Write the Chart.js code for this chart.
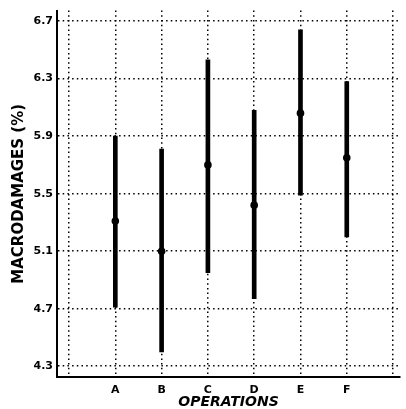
<!DOCTYPE html>
<html>
<head>
<meta charset="utf-8">
<script src="https://cdn.jsdelivr.net/npm/chart.js@4.4.1/dist/chart.umd.min.js"></script>
<style>
  html, body { margin: 0; padding: 0; background: #fff; }
  #wrap { width: 406px; height: 409px; }
</style>
</head>
<body>
<div id="wrap"><canvas id="myChart"></canvas></div>
<script>
const categories = ['A', 'B', 'C', 'D', 'E', 'F']
const lows = [4.71, 4.40, 4.95, 4.77, 5.49, 5.20]
const means = [5.31, 5.10, 5.70, 5.42, 6.06, 5.75]
const highs = [5.90, 5.81, 6.43, 6.08, 6.64, 6.28]
const yTicks = [4.3, 4.7, 5.1, 5.5, 5.9, 6.3, 6.7]
const xTicks = [0, 1, 2, 3, 4, 5, 6, 7]

const ink = '#000'
const font = { family: 'DejaVu Sans', weight: 'bold', size: 11 }

const ctx = document.getElementById('myChart')

// dotted grid, solid axis lines
const grid = {
  color: ink,
  lineWidth: 1.5,
  drawTicks: false,
  offset: false
}
const border = { display: true, color: ink, width: 2, dash: [1.5, 3.2] }

new Chart(ctx, {
  type: 'bar',
  data: {
    datasets: [
      {
        type: 'bar',
        data: categories.map((c, i) => ({ x: i + 1, y: [lows[i], highs[i]] })),
        backgroundColor: ink,
        borderWidth: 0,
        barThickness: 4
      },
      {
        type: 'scatter',
        data: categories.map((c, i) => ({ x: i + 1, y: means[i] })),
        backgroundColor: ink,
        borderWidth: 0,
        pointRadius: 3.8
      }
    ]
  },
  options: {
    responsive: true,
    maintainAspectRatio: false,
    animation: false,
    layout: {
      padding: { left: 0, top: 5, right: 6, bottom: 0 }
    },
    plugins: {
      legend: { display: false },
      tooltip: { enabled: false }
    },
    scales: {
      x: {
        type: 'linear',
        offset: false,
        min: -0.26,
        max: 7.15,
        afterBuildTicks(scale) {
          scale.ticks = xTicks.map(v => ({ value: v }))
        },
        afterFit(scale) { scale.height = 32 },
        ticks: {
          color: ink,
          font: { family: 'DejaVu Sans', weight: 'bold', size: 11 },
          padding: 7,
          maxRotation: 0,
          callback: v => categories[v - 1] || ''
        },
        grid: grid,
        border: border,
        title: {
          display: true,
          text: 'OPERATIONS',
          color: ink,
          font: { family: 'DejaVu Sans', weight: 'bold', style: 'italic', size: 14, lineHeight: 1 },
          padding: { top: 0, bottom: 0 }
        }
      },
      y: {
        min: 4.225,
        max: 6.773,
        afterBuildTicks(scale) {
          scale.ticks = yTicks.map(v => ({ value: v }))
        },
        afterFit(scale) { scale.width = 57 },
        ticks: {
          color: ink,
          font: font,
          padding: 4,
          callback: v => v.toFixed(1)
        },
        grid: grid,
        border: border,
        title: {
          display: true,
          text: 'MACRODAMAGES (%)',
          color: ink,
          font: { family: 'DejaVu Sans', weight: 'bold', size: 15 },
          padding: { top: 10, bottom: 0 }
        }
      }
    }
  }
})
</script>
</body>
</html>
